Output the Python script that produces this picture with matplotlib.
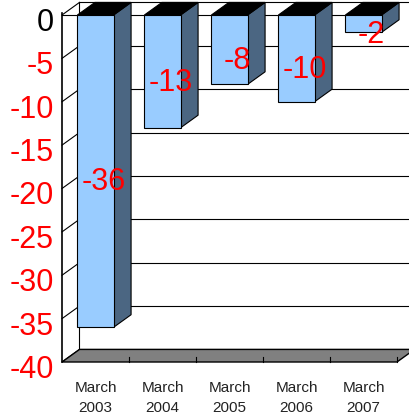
import matplotlib
matplotlib.use("Agg")
import matplotlib.pyplot as plt
from matplotlib.patches import Polygon
from matplotlib.transforms import ScaledTranslation

plt.rcParams['font.family'] = ['Liberation Sans', 'DejaVu Sans']

# Data
categories = ["March\n2003", "March\n2004", "March\n2005", "March\n2006", "March\n2007"]
values = [-36, -13, -8, -10, -2]
y_ticks = [0, -5, -10, -15, -20, -25, -30, -35, -40]
y_min, y_max = -40, 0

# Styling
front_color = "#99ccff"
side_color = "#4b6682"
top_color = "#000000"
floor_color = "#808080"
bar_width = 0.54
depth_x = 0.261   # depth offset along the category axis (category units)
depth_y = 1.45    # depth offset along the value axis (value units)

fig = plt.figure(figsize=(4.09, 4.18), dpi=100)
ax = fig.add_axes([62 / 409, 56 / 418, 335 / 409, 347 / 418])
n = len(categories)
ax.set_xlim(0, n)
ax.set_ylim(y_min, y_max)
for s in ax.spines.values():
    s.set_visible(False)

line_kw = dict(color="black", lw=0.8, clip_on=False)

# Back wall gridlines and side-wall diagonals
for t in y_ticks:
    ax.plot([depth_x, n + depth_x], [t + depth_y, t + depth_y], zorder=1, **line_kw)
    ax.plot([0, depth_x], [t, t + depth_y], zorder=1, **line_kw)
ax.plot([depth_x, depth_x], [y_min + depth_y, y_max + depth_y], zorder=1, **line_kw)

# Front top edge (category axis at zero)
ax.plot([0, n], [0, 0], zorder=1, **line_kw)
for i in range(1, n):
    ax.plot([i, i], [-0.2, 0.3], zorder=1, **line_kw)

# Floor
floor = Polygon([(0, y_min), (n, y_min), (n + depth_x, y_min + depth_y),
                 (depth_x, y_min + depth_y)], closed=True,
                facecolor=floor_color, edgecolor="black", lw=1.0,
                clip_on=False, zorder=2)
ax.add_patch(floor)
for i in range(1, n + 1):
    ax.plot([i, i], [y_min, y_min + 0.6], zorder=2.5, **line_kw)

# Front value axis
ax.plot([0, 0], [y_min, y_max + 0.2], zorder=2.5, color="black", lw=1.2, clip_on=False)

# Bars
for i, v in enumerate(values):
    x0 = i + 0.5 - bar_width / 2
    x1 = i + 0.5 + bar_width / 2
    side = Polygon([(x1, 0), (x1, v), (x1 + depth_x, v + depth_y), (x1 + depth_x, depth_y)],
                   closed=True, facecolor=side_color, edgecolor="black", lw=0.8,
                   clip_on=False, zorder=3)
    top = Polygon([(x0, 0), (x1, 0), (x1 + depth_x, depth_y), (x0 + depth_x, depth_y)],
                  closed=True, facecolor=top_color, edgecolor="black", lw=0.8,
                  clip_on=False, zorder=3)
    front = Polygon([(x0, 0), (x1, 0), (x1, v), (x0, v)],
                    closed=True, facecolor=front_color, edgecolor="black", lw=0.8,
                    clip_on=False, zorder=3.5)
    for p in (side, top, front):
        ax.add_patch(p)
    ax.text(i + 0.5 + 0.12, v / 2 - 1.3, f"{v}", color="red", fontsize=22,
            ha="center", va="center", zorder=5)

# Value axis labels, set slightly below their gridline
ax.set_yticks([])
label_tf = ax.get_yaxis_transform() + ScaledTranslation(-8 / 100, -8 / 100, fig.dpi_scale_trans)
for t in y_ticks:
    ax.text(0, t, str(t), transform=label_tf, fontsize=22, ha="right", va="center",
            color="black" if t == 0 else "red", clip_on=False)

ax.set_xticks([i + 0.5 for i in range(n)])
ax.set_xticklabels(categories, fontsize=11, color="#222222", linespacing=1.5)
ax.tick_params(axis="x", length=0, pad=14)

fig.savefig("out.png", dpi=100)
